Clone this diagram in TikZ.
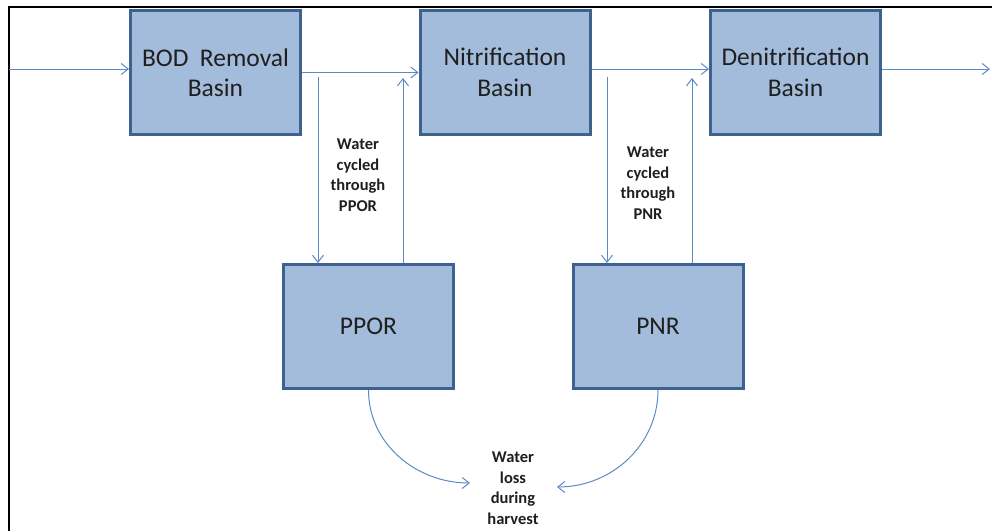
\documentclass[tikz,border=0pt]{standalone}
\usepackage{fontspec}
\setmainfont{Carlito}
\usetikzlibrary{arrows.meta}
\definecolor{boxfill}{RGB}{163,188,219}
\definecolor{boxline}{RGB}{62,98,143}
\definecolor{flowblue}{RGB}{91,139,197}
\tikzset{
  basin/.style={draw=boxline, fill=boxfill, line width=3pt,
    minimum width=170pt, minimum height=124pt, inner sep=0pt,
    align=center, font=\fontsize{25.5}{30.5}\selectfont, text=black!88},
  flow/.style={draw=flowblue, line width=1pt,
    -{Straight Barb[length=7pt,width=11pt,line width=1pt]}},
  note/.style={align=center, font=\bfseries\fontsize{16.5}{20.5}\selectfont,
    text=black!88, inner sep=0pt}
}
\begin{document}
\begin{tikzpicture}[x=1pt,y=-1pt]
  \useasboundingbox (0,0) rectangle (992,531);
  % outer frame (left and top edges)
  \draw[line width=2pt] (8.5,531) -- (8.5,6.5) -- (992,6.5);

  % basins
  \node[basin] (bod)   at (215.5,72.5) {BOD\ \ Removal\\Basin};
  \node[basin] (nit)   at (505,72.5)   {Nitrification\\Basin};
  \node[basin] (denit) at (795.5,72.5) {Denitrification\\Basin};
  \node[basin] (ppor)  at (368.5,326.5) {PPOR};
  \node[basin] (pnr)   at (658,326.5)  {PNR};

  % labels
  \node[note] (lab1) at (358,175) {Water\\cycled\\through\\PPOR};
  \node[note] (lab2) at (648,183) {Water\\cycled\\through\\PNR};
  \node[note] (lab3) at (513,488) {Water\\loss\\during\\harvest};

  % reference points for the open ends
  \coordinate (in)  at (9,69);
  \coordinate (out) at (990,69);
  \coordinate (d1)  at (318,77);
  \coordinate (u1)  at (403,78);
  \coordinate (d2)  at (607,77);
  \coordinate (u2)  at (692,78);
  \coordinate (l1)  at (470,483);
  \coordinate (l2)  at (557,487);

  % main flow
  \draw[flow] (in) -- (in -| bod.west);
  \draw[flow] (bod.east) -- (nit.west);
  \draw[flow] (nit.east |- in) -- (denit.west |- in);
  \draw[flow] (denit.east |- in) -- (out);

  % recycle loops
  \draw[flow] (d1) -- (d1 |- ppor.north);
  \draw[flow] (u1 |- ppor.north) -- (u1);
  \draw[flow] (d2) -- (d2 |- pnr.north);
  \draw[flow] (u2 |- pnr.north) -- (u2);

  % harvest losses
  \draw[flow] (ppor.south) to[out=-90,in=180] (l1);
  \draw[flow] (pnr.south) to[out=-90,in=0] (l2);
\end{tikzpicture}
\end{document}
